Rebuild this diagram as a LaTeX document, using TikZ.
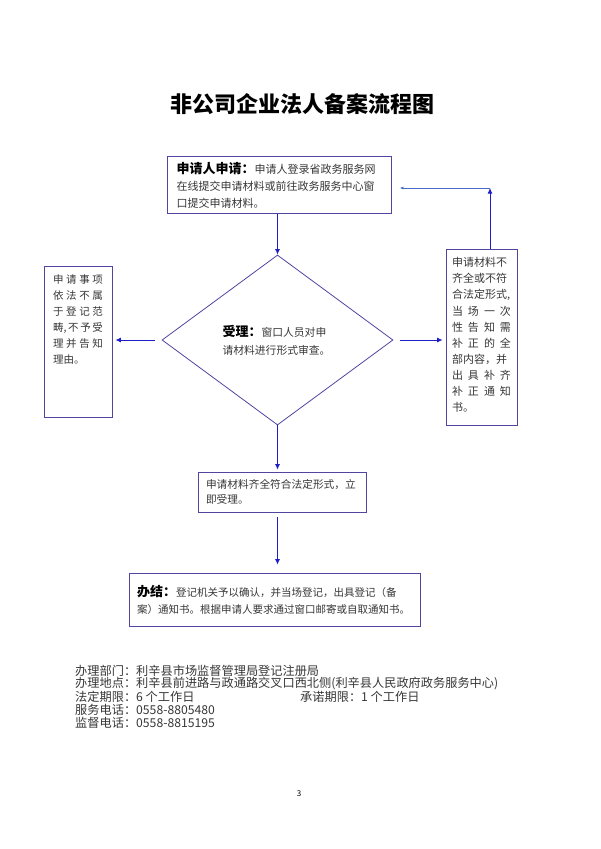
\documentclass[tikz,border=0pt]{standalone}
\usepackage{fontspec}
\setmainfont{Noto Sans CJK SC}
\usetikzlibrary{arrows.meta,shapes.geometric}

\definecolor{boxline}{RGB}{80,70,160}
\definecolor{flowblue}{RGB}{30,30,200}
\definecolor{backline}{RGB}{70,110,200}
\definecolor{bodytext}{RGB}{55,55,55}

\newcommand{\spreadrow}[1]{\makebox[\linewidth][s]{#1}}
\newcommand{\headtxt}[1]{{\fontsize{13}{17}\selectfont\bfseries\color{black}#1}}

\tikzset{
  box/.style={draw=boxline, line width=0.8pt, text=bodytext, inner ysep=0pt},
  flow/.style={draw=flowblue, line width=0.9pt, -{Latex[length=5.5pt,width=5pt]}},
  flowthin/.style={draw=backline, line width=0.6pt, -{Latex[length=3.5pt,width=3pt]}},
  foot/.style={anchor=west, inner sep=0pt, font=\fontsize{12.2}{13}\selectfont, text=bodytext},
}

\begin{document}
\begin{tikzpicture}[x=1pt, y=-1pt]
\useasboundingbox[fill=white] (0,0) rectangle (600,849);

\node[font=\fontsize{22}{26}\selectfont\bfseries] (title) at (302.5,104) {非公司企业法人备案流程图};

% boxes
\node[box, minimum width=224pt, minimum height=57pt, text width=206pt, inner xsep=9pt, align=left, font=\fontsize{11}{17}\selectfont] (apply) at (279.5,185)
  {\headtxt{申请人申请：}申请人登录省政务服务网\\在线提交申请材料或前往政务服务中心窗\\口提交申请材料。};
\node[box, diamond, minimum width=231pt, minimum height=170pt, inner sep=0pt, text width=110pt, align=left, font=\fontsize{10.8}{18}\selectfont] (check) at (277.5,340)
  {\headtxt{受理：}窗口人员对申\\请材料进行形式审查。};
\node[box, minimum width=68pt, minimum height=151pt, inner sep=0pt, font=\fontsize{10.5}{16}\selectfont] (reject) at (78,341.5)
  {\parbox[c][151pt][t]{50pt}{\vspace*{9pt}\spreadrow{申 请 事 项}\\\spreadrow{依 法 不 属}\\\spreadrow{于 登 记 范}\\\spreadrow{畴, 不 予 受}\\\spreadrow{理 并 告 知}\\理由。}};
\node[box, minimum width=71pt, minimum height=176pt, inner sep=0pt, font=\fontsize{11}{16.1}\selectfont] (correct) at (481.5,337)
  {\parbox[c][176pt][t]{59pt}{\vspace*{8.5pt}申请材料不\\齐全或不符\\合法定形式,\\\spreadrow{当 场 一 次}\\\spreadrow{性 告 知 需}\\\spreadrow{补 正 的 全}\\部内容，并\\\spreadrow{出 具 补 齐}\\\spreadrow{补 正 通 知}\\书。}};
\node[box, minimum width=168pt, minimum height=40pt, text width=152pt, inner xsep=8pt, align=left, font=\fontsize{10.7}{15}\selectfont] (accept) at (282,492)
  {申请材料齐全符合法定形式，立\\即受理。};
\node[box, minimum width=291pt, minimum height=53pt, text width=275pt, inner xsep=8pt, align=left, font=\fontsize{10.5}{17}\selectfont] (finish) at (274.5,599.5)
  {\headtxt{办结：}登记机关予以确认，并当场登记，出具登记（备\\案）通知书。根据申请人要求通过窗口邮寄或自取通知书。};

% arrows
\draw[flow] (check.north |- apply.south) -- (check.north);
\draw[flow, shorten <=7pt, shorten >=3pt] (check.west) -- (check.west -| reject.east);
\draw[flow, shorten <=7pt, shorten >=3pt] (check.east) -- (check.east -| correct.west);
\coordinate (back) at (490,188);
\draw[flow] (back |- correct.north) -- (back);
\draw[flowthin, shorten >=8pt] (back) -- (back -| apply.east);
\draw[flow, shorten >=2pt] (check.south) -- (check.south |- accept.north);
\draw[flow, shorten <=5pt, shorten >=8pt] (check.south |- accept.south) -- (check.south |- finish.north);

% footer
\node[foot] (dept) at (75,670.5) {办理部门：利辛县市场监督管理局登记注册局};
\node[foot] (place) at (75,683.5) {办理地点：利辛县前进路与政通路交叉口西北侧(利辛县人民政府政务服务中心)};
\node[foot] (legal) at (75,696.5) {法定期限：6 个工作日};
\node[foot] (promise) at (300,696.5) {承诺期限：1 个工作日};
\node[foot] (service) at (75,709.5) {服务电话：0558-8805480};
\node[foot] (watch) at (75,722.5) {监督电话：0558-8815195};
\node[font=\fontsize{8}{9}\selectfont] (pageno) at (299,794) {3};
\end{tikzpicture}
\end{document}
